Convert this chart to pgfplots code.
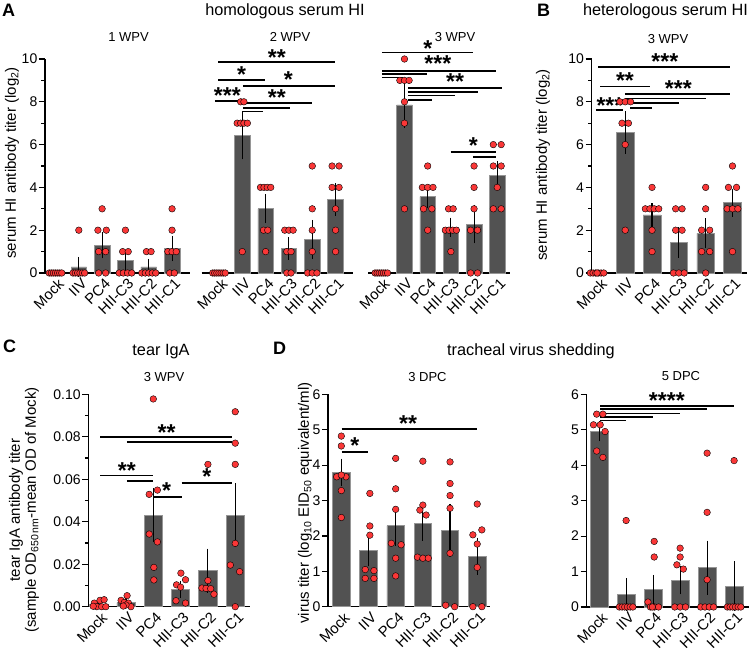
\documentclass[border=0pt]{standalone}
\usepackage{fontspec}
\setmainfont{Liberation Sans}
\usepackage{pgfplots}
\pgfplotsset{compat=1.18}
\definecolor{barfill}{RGB}{82,82,82}
\definecolor{baredge}{RGB}{150,150,150}
\definecolor{dotred}{RGB}{250,55,55}
\newcommand{\tfont}{\fontsize{14}{14}\selectfont}
\newcommand{\xfont}{\fontsize{14.8}{14.8}\selectfont}
\newcommand{\lfont}{\fontsize{15}{15}\selectfont}
\newcommand{\sfont}{\fontsize{13}{13}\selectfont}
\pgfplotsset{
  base/.style={
    scale only axis, enlargelimits=false, clip=false, ymin=0,
    axis x line*=bottom, axis y line*=left,
    axis line style={-, line width=1.2pt, black},
    xtick={0,1,2,3,4,5},
    xticklabels={Mock,IIV,PC4,HII-C3,HII-C2,HII-C1},
    x tick label style={rotate=45, anchor=north east, inner sep=0pt, font=\xfont, xshift=2.5pt, yshift=0pt},
    y tick label style={font=\tfont, inner sep=1.5pt},
    /pgf/number format/assume math mode=true,
    tick align=outside,
    major tick length=6pt, minor tick length=3.5pt,
    tick style={line width=1.2pt, black},
    x tick style={draw=none},
  },
  bars/.style={ybar, bar shift=0pt, fill=barfill, draw=baredge, line width=0.6pt},
  dots/.style={only marks, mark=*, mark size=3.3pt, mark options={fill=dotred, draw=none}},
  errs/.style={draw=none, mark=none, error bars/.cd, y dir=both, y explicit, error bar style={draw=black, line width=1.1pt}, error mark options={draw=black, mark size=4pt, line width=1.1pt}},
  sig/.style={black, line width=1.7pt, mark=none},
}
\tikzset{ast/.style={font=\fontsize{23}{23}\selectfont\bfseries, anchor=base, inner sep=0pt, yshift=-13.3pt}}
\begin{document}
\begin{tikzpicture}
\path[use as bounding box] (0,0) rectangle (750pt,651pt);
% ---------------- A 1 WPV
\begin{axis}[base, at={(45pt,378pt)}, anchor=south west, width=145pt, height=214pt,
  xmin=-0.45, xmax=5.77, ymax=10, ytick={0,2,4,6,8,10}, minor ytick={1,3,5,7,9}]
\addplot[bars, bar width=15.6pt] coordinates {(0,0)(1,0.286)(2,1.286)(3,0.571)(4,0.286)(5,1.143)};
\addplot[dots] coordinates {(-0.27,0)(-0.18,0)(-0.09,0)(0,0)(0.09,0)(0.18,0)(0.27,0)
 (1,2)(0.75,0)(0.85,0)(0.95,0)(1.05,0)(1.15,0)(1.25,0)
 (2,3)(1.82,2)(2.18,2)(1.85,1)(2.15,1)(1.85,0)(2.15,0)
 (3,2)(2.88,1)(3.12,1)(2.73,0)(2.91,0)(3.09,0)(3.27,0)
 (3.9,1)(4.1,1)(3.7,0)(3.85,0)(4,0)(4.15,0)(4.3,0)
 (5,3)(5,2)(4.82,1)(5,1)(5.18,1)(4.9,0)(5.1,0)};
\addplot[errs] coordinates {(1,0.286) +- (0,0.286) (2,1.286) +- (0,0.42) (3,0.571) +- (0,0.297) (4,0.286) +- (0,0.184) (5,1.143) +- (0,0.404)};
\end{axis}
% ---------------- A 2 WPV
\begin{axis}[base, axis y line=none, ytick=\empty, at={(201.7pt,378pt)}, anchor=south west, width=151.6pt, height=214pt,
  xmin=-0.74, xmax=5.76, ymax=10]
\addplot[bars, bar width=15.6pt] coordinates {(0,0)(1,6.43)(2,3)(3,1.143)(4,1.571)(5,3.43)};
\addplot[dots] coordinates {(-0.27,0)(-0.18,0)(-0.09,0)(0,0)(0.09,0)(0.18,0)(0.27,0)
 (0.93,8)(1.07,8)(0.78,7)(0.93,7)(1.07,7)(1.22,7)(1,1)
 (1.78,4)(1.93,4)(2.07,4)(2.22,4)(1.91,2)(2.09,2)(2,1)
 (2.82,2)(3,2)(3.18,2)(2.91,1)(3.09,1)(2.91,0)(3.09,0)
 (4,5)(4,3)(4,2)(4,1)(3.8,0)(4,0)(4.2,0)
 (4.85,5)(5.15,5)(4.85,4)(5.15,4)(5,3)(5,2)(5,1)};
\addplot[errs] coordinates {(1,6.43) +- (0,0.93) (2,3) +- (0,0.488) (3,1.143) +- (0,0.34) (4,1.571) +- (0,0.72) (5,3.43) +- (0,0.57)};
\addplot[sig] coordinates {(-0.03,9.85)(4.98,9.85)};
\addplot[sig] coordinates {(-0.03,9.02)(1.97,9.02)};
\addplot[sig] coordinates {(1.02,8.75)(4.98,8.75)};
\addplot[sig] coordinates {(-0.17,8.04)(1.02,8.04)};
\addplot[sig] coordinates {(1.02,7.93)(3.98,7.93)};
\addplot[sig] coordinates {(1.02,7.72)(3.05,7.72)};
\addplot[sig] coordinates {(1.02,7.54)(1.9,7.54)};
\node[ast] at (axis cs:2.48,10.34) {**};
\node[ast] at (axis cs:0.97,9.53) {*};
\node[ast] at (axis cs:2.97,9.28) {*};
\node[ast] at (axis cs:0.36,8.55) {***};
\node[ast] at (axis cs:2.48,8.44) {**};
\end{axis}
% ---------------- A 3 WPV
\begin{axis}[base, axis y line=none, ytick=\empty, at={(368.3pt,378pt)}, anchor=south west, width=141.7pt, height=214pt,
  xmin=-0.56, xmax=5.55, ymax=10]
\addplot[bars, bar width=15.6pt] coordinates {(0,0)(1,7.857)(2,3.571)(3,2.143)(4,2.286)(5,4.571)};
\addplot[dots] coordinates {(-0.27,0)(-0.18,0)(-0.09,0)(0,0)(0.09,0)(0.18,0)(0.27,0)
 (1,10)(0.8,9)(1,9)(1.2,9)(1,8)(1,7)(1,3)
 (2,5)(1.77,4)(2,4)(2.23,4)(1.82,3)(2.18,3)(2,2)
 (2.9,3)(3.1,3)(2.76,2)(2.92,2)(3.08,2)(3.24,2)(3,1)
 (4,5)(4,4)(4,3)(3.85,2)(4.15,2)(3.85,0)(4.15,0)
 (4.83,6)(5.17,6)(4.83,5)(5.17,5)(5,4)(4.83,3)(5.17,3)};
\addplot[errs] coordinates {(1,7.857) +- (0,0.885) (2,3.571) +- (0,0.369) (3,2.143) +- (0,0.26) (4,2.286) +- (0,0.714) (5,4.571) +- (0,0.48)};
\addplot[sig] coordinates {(0.02,10.31)(3.95,10.31)};
\addplot[sig] coordinates {(0.02,9.45)(4.94,9.45)};
\addplot[sig] coordinates {(0.02,9.30)(1.96,9.30)};
\addplot[sig] coordinates {(0.02,9.13)(0.94,9.13)};
\addplot[sig] coordinates {(1.15,8.66)(5.19,8.66)};
\addplot[sig] coordinates {(1.15,8.46)(4.17,8.46)};
\addplot[sig] coordinates {(1.15,8.29)(3.18,8.29)};
\addplot[sig] coordinates {(1.15,8.08)(2.17,8.08)};
\addplot[sig] coordinates {(2.99,5.64)(4.94,5.64)};
\addplot[sig] coordinates {(3.95,5.41)(4.94,5.41)};
\node[ast] at (axis cs:2.01,10.75) {*};
\node[ast] at (axis cs:2.44,10.05) {***};
\node[ast] at (axis cs:3.18,9.2) {**};
\node[ast] at (axis cs:3.97,6.21) {*};
\end{axis}
% ---------------- B
\begin{axis}[base, at={(591.7pt,378pt)}, anchor=south west, width=155pt, height=214pt,
  xmin=-0.25, xmax=5.53, ymax=10, ytick={0,2,4,6,8,10}, minor ytick={1,3,5,7,9}]
\addplot[bars, bar width=17.7pt] coordinates {(0,0)(1,6.571)(2,2.714)(3,1.429)(4,1.857)(5,3.286)};
\addplot[dots] coordinates {(-0.3,0)(-0.2,0)(-0.1,0)(0,0)(0.1,0)(0.2,0)(-0.05,0)
 (0.8,8)(1,8)(1.2,8)(0.88,7)(1.12,7)(1,6)(1,2)
 (2,4)(1.75,3)(1.92,3)(2.08,3)(2.25,3)(2,2)(2,1)
 (2.88,3)(3.12,3)(2.88,2)(3.12,2)(2.8,0)(3,0)(3.2,0)
 (4,4)(4,3)(3.85,2)(4.15,2)(3.85,1)(4.15,1)(4,0)
 (5,5)(4.85,4)(5.15,4)(4.8,3)(5,3)(5.2,3)(5,1)};
\addplot[errs] coordinates {(1,6.571) +- (0,0.81) (2,2.714) +- (0,0.36) (3,1.429) +- (0,0.53) (4,1.857) +- (0,0.51) (5,3.286) +- (0,0.47)};
\addplot[sig] coordinates {(0,9.61)(4.91,9.61)};
\addplot[sig] coordinates {(0.06,8.71)(1.92,8.71)};
\addplot[sig] coordinates {(0.99,8.36)(4.91,8.36)};
\addplot[sig] coordinates {(0.99,8.16)(4.01,8.16)};
\addplot[sig] coordinates {(1.18,7.96)(3.0,7.96)};
\addplot[sig] coordinates {(1.18,7.70)(1.99,7.70)};
\addplot[sig] coordinates {(-0.09,7.62)(0.9,7.62)};
\node[ast] at (axis cs:2.48,10.11) {***};
\node[ast] at (axis cs:0.99,9.25) {**};
\node[ast] at (axis cs:2.98,8.89) {***};
\node[ast] at (axis cs:0.43,8.08) {***};
\end{axis}
% ---------------- C
\begin{axis}[base, at={(88.3pt,44.3pt)}, anchor=south west, width=161.7pt, height=212.4pt,
  xmin=-0.38, xmax=5.54, ymax=0.1, ytick={0,0.02,0.04,0.06,0.08,0.1},
  yticklabels={0.00,0.02,0.04,0.06,0.08,0.10}, minor ytick={0.01,0.03,0.05,0.07,0.09}]
\addplot[bars, bar width=18.3pt] coordinates {(0,0.0012)(1,0.0019)(2,0.0431)(3,0.0082)(4,0.017)(5,0.0431)};
\addplot[dots] coordinates {(-0.16,0.0017)(0.05,0.003)(0.2,0.0033)(-0.07,0)(0.11,0)(0.26,0)(-0.2,0.0002)
 (0.82,0.003)(1.04,0.0052)(0.94,0.002)(1.09,0.0017)(1.18,0)(1,0.0008)(0.9,0.0003)
 (2,0.0978)(1.85,0.0529)(2.15,0.0549)(1.85,0.0342)(2.15,0.0305)(2.02,0.0185)(2.02,0.0126)
 (3.01,0.0158)(3.18,0.0127)(2.85,0.0103)(3,0.0092)(2.83,0.0028)(3.18,0.0017)
 (4,0.067)(4,0.0123)(3.78,0.0088)(3.93,0.0086)(4.1,0.0085)(4.22,0.0059)
 (5,0.0918)(5,0.077)(5,0.067)(5,0.0298)(4.82,0.0196)(5.16,0.0165)(5,0)};
\addplot[errs] coordinates {(0,0.0012) +- (0,0.0005) (1,0.0019) +- (0,0.0008) (2,0.0431) +- (0,0.0108) (3,0.0082) +- (0,0.002) (4,0.017) +- (0,0.0085) (5,0.0431) +- (0,0.0132)};
\addplot[sig] coordinates {(0.05,0.080)(4.89,0.080)};
\addplot[sig] coordinates {(1.03,0.0777)(4.89,0.0777)};
\addplot[sig] coordinates {(0.05,0.0617)(1.98,0.0617)};
\addplot[sig] coordinates {(1.03,0.0593)(1.98,0.0593)};
\addplot[sig] coordinates {(2.0,0.0518)(3.04,0.0518)};
\addplot[sig] coordinates {(3.04,0.0584)(4.89,0.0584)};
\node[ast] at (axis cs:2.49,0.0847) {**};
\node[ast] at (axis cs:1.03,0.0667) {**};
\node[ast] at (axis cs:2.49,0.057) {*};
\node[ast] at (axis cs:3.96,0.0636) {*};
\end{axis}
% ---------------- D 3 DPC
\begin{axis}[base, at={(328pt,44.3pt)}, anchor=south west, width=162pt, height=212.4pt,
  xmin=-0.49, xmax=5.47, ymax=6, ytick={0,1,2,3,4,5,6}]
\addplot[bars, bar width=17.5pt] coordinates {(0,3.79)(1,1.6)(2,2.29)(3,2.35)(4,2.15)(5,1.43)};
\addplot[dots] coordinates {(0,4.82)(0,4.54)(-0.17,3.67)(0.17,3.67)(0,3.72)(0,3.28)(0,2.52)
 (1.05,3.2)(1.05,2.28)(1.05,2.02)(0.88,1.05)(1.2,1.02)(0.88,0.8)(1.2,0.8)
 (2,4.19)(2,3.33)(2,2.75)(1.84,1.79)(2.2,1.75)(2,1.37)(2,0.87)
 (3,4.11)(3,2.87)(2.89,2.73)(3.12,2.59)(2.8,1.4)(3,1.37)(3.2,1.37)
 (4,4.09)(4,3.48)(4,3.14)(4,2.78)(4,1.51)(3.84,0.04)(4.17,0)
 (5,2.9)(4.84,2.03)(5.17,2.17)(5,1.77)(5,1.11)(4.84,0)(5.17,0)};
\addplot[errs] coordinates {(0,3.79) +- (0,0.28) (1,1.6) +- (0,0.35) (2,2.29) +- (0,0.45) (3,2.35) +- (0,0.38) (4,2.15) +- (0,0.63) (5,1.43) +- (0,0.41)};
\addplot[sig] coordinates {(0.01,5.01)(4.98,5.01)};
\addplot[sig] coordinates {(0.01,4.38)(0.99,4.38)};
\node[ast] at (axis cs:2.46,5.32) {**};
\node[ast] at (axis cs:0.5,4.71) {*};
\end{axis}
% ---------------- D 5 DPC
\begin{axis}[base, at={(586.7pt,44pt)}, anchor=south west, width=162pt, height=212.7pt,
  xmin=-0.46, xmax=5.54, ymax=6, ytick={0,1,2,3,4,5,6}]
\addplot[bars, bar width=17.5pt] coordinates {(0,4.96)(1,0.35)(2,0.49)(3,0.76)(4,1.11)(5,0.59)};
\addplot[dots] coordinates {(-0.09,5.44)(0.14,5.44)(-0.21,5.14)(0.04,5.14)(0.22,4.95)(-0.09,4.4)(0.14,4.22)
 (1,2.44)(0.75,0)(0.85,0)(0.95,0)(1.05,0)(1.15,0)(1.25,0)
 (2.04,1.85)(2.04,1.41)(1.81,0.14)(1.9,0)(2.05,0)(2.2,0)(1.97,0)
 (3,1.66)(3,1.41)(2.88,1.19)(3.12,1.07)(2.8,0)(3,0)(3.2,0)
 (4,4.34)(4,2.67)(4,0.77)(3.76,0)(3.92,0)(4.08,0)(4.24,0)
 (5,4.13)(4.75,0)(4.85,0)(4.95,0)(5.05,0)(5.15,0)(5.25,0)};
\addplot[errs] coordinates {(0,4.96) +- (0,0.17) (1,0.35) +- (0,0.35) (2,0.49) +- (0,0.3) (3,0.76) +- (0,0.29) (4,1.11) +- (0,0.65) (5,0.59) +- (0,0.59)};
\addplot[sig] coordinates {(0.04,5.67)(5.0,5.67)};
\addplot[sig] coordinates {(0.04,5.58)(3.99,5.58)};
\addplot[sig] coordinates {(0.04,5.46)(3.0,5.46)};
\addplot[sig] coordinates {(0.04,5.35)(2.01,5.35)};
\addplot[sig] coordinates {(0.04,5.26)(1.0,5.26)};
\node[ast] at (axis cs:2.51,5.98) {****};
\end{axis}
% ---------------- texts
\node[anchor=base west, inner sep=0pt, font=\fontsize{18}{18}\selectfont\bfseries] at (2pt,634pt) {A};
\node[anchor=base west, inner sep=0pt, font=\fontsize{18}{18}\selectfont\bfseries] at (537pt,634pt) {B};
\node[anchor=base west, inner sep=0pt, font=\fontsize{18}{18}\selectfont\bfseries] at (3pt,298pt) {C};
\node[anchor=base west, inner sep=0pt, font=\fontsize{18}{18}\selectfont\bfseries] at (273pt,296pt) {D};
\node[anchor=base, inner sep=0pt, font=\fontsize{16.3}{16.3}\selectfont] at (285pt,635pt) {homologous serum HI};
\node[anchor=base, inner sep=0pt, font=\fontsize{16.3}{16.3}\selectfont] at (665.5pt,635pt) {heterologous serum HI};
\node[anchor=base, inner sep=0pt, font=\fontsize{16.3}{16.3}\selectfont] at (161pt,295pt) {tear IgA};
\node[anchor=base, inner sep=0pt, font=\fontsize{16.3}{16.3}\selectfont] at (531pt,295pt) {tracheal virus shedding};
\node[anchor=base, inner sep=0pt, font=\sfont] at (128.5pt,609pt) {1 WPV};
\node[anchor=base, inner sep=0pt, font=\sfont] at (290pt,609pt) {2 WPV};
\node[anchor=base, inner sep=0pt, font=\sfont] at (455pt,609pt) {3 WPV};
\node[anchor=base, inner sep=0pt, font=\sfont] at (668pt,607pt) {3 WPV};
\node[anchor=base, inner sep=0pt, font=\sfont] at (164pt,269.3pt) {3 WPV};
\node[anchor=base, inner sep=0pt, font=\sfont] at (427.5pt,269.3pt) {3 DPC};
\node[anchor=base, inner sep=0pt, font=\sfont] at (681pt,270pt) {5 DPC};
\node[rotate=90, inner sep=0pt, font=\lfont] at (12pt,488pt) {serum HI antibody titer (log\textsubscript{2})};
\node[rotate=90, inner sep=0pt, font=\lfont] at (543pt,486pt) {serum HI antibody titer (log\textsubscript{2})};
\node[rotate=90, inner sep=0pt, font=\lfont, align=center] at (24pt,141pt) {tear IgA antibody titer\\[1pt](sample OD\textsubscript{650\,nm}-mean OD of Mock)};
\node[rotate=90, inner sep=0pt, font=\lfont] at (305pt,148pt) {virus titer (log\textsubscript{10} EID\textsubscript{50} equivalent/ml)};
\end{tikzpicture}
\end{document}
